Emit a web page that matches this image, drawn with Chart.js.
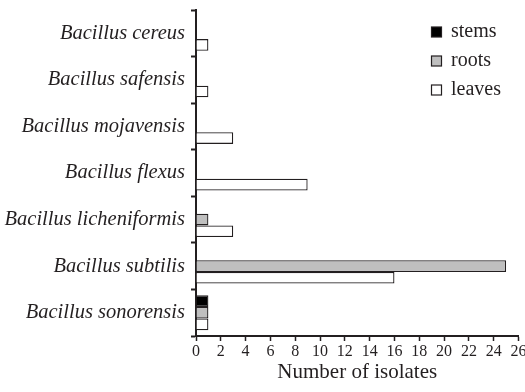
<!DOCTYPE html>
<html>
<head>
<meta charset="utf-8">
<script src="https://cdn.jsdelivr.net/npm/chart.js@4/dist/chart.umd.min.js"></script>
<style>
  html, body { margin: 0; padding: 0; background: #fff; overflow: hidden; }
  canvas { display: block; }
</style>
</head>
<body>
<canvas id="c" width="525" height="392"></canvas>
<script>
const species = ['Bacillus cereus', 'Bacillus safensis', 'Bacillus mojavensis', 'Bacillus flexus',
  'Bacillus licheniformis', 'Bacillus subtilis', 'Bacillus sonorensis'];
const stems = [0, 0, 0, 0, 0, 0, 1];
const roots = [0, 0, 0, 0, 1, 25, 1];
const leaves = [1, 1, 3, 9, 3, 16, 1];
const seriesNames = ['stems', 'roots', 'leaves'];
const xMin = 0, xMax = 26, xStep = 2;

const INK = '#231f20';
const FONT = "'Liberation Serif', 'DejaVu Serif', serif";
const fills = ['#000000', '#bfbfbf', '#ffffff'];

// legend in the top right corner, squares + labels
const boxLegend = {
  id: 'boxLegend',
  afterDraw(chart) {
    const ctx = chart.ctx;
    ctx.save();
    ctx.font = `20px ${FONT}`;
    ctx.textBaseline = 'middle';
    chart.data.datasets.forEach((ds, i) => {
      const y = 32 + i * 29;
      ctx.fillStyle = ds.backgroundColor;
      ctx.fillRect(431.5, y - 5, 10, 10);
      ctx.strokeStyle = INK;
      ctx.lineWidth = 1.2;
      ctx.strokeRect(431.5, y - 5, 10, 10);
      ctx.fillStyle = INK;
      ctx.fillText(ds.label, 451, y);
    });
    ctx.restore();
  }
};

new Chart(document.getElementById('c').getContext('2d'), {
  type: 'bar',
  data: {
    labels: species,
    datasets: [stems, roots, leaves].map((d, i) => ({
      label: seriesNames[i],
      data: d,
      backgroundColor: fills[i],
      borderColor: INK,
      borderWidth: 1.3,
      categoryPercentage: 0.75,
      barPercentage: 1,
    })),
  },
  options: {
    indexAxis: 'y',
    responsive: false,
    animation: false,
    layout: { padding: { top: 10, left: 0, right: 0, bottom: 0 } },
    plugins: { legend: { display: false }, tooltip: { enabled: false } },
    scales: {
      x: {
        min: xMin, max: xMax,
        ticks: { stepSize: xStep, color: INK, font: { family: FONT, size: 16 }, padding: 1, maxRotation: 0 },
        grid: { drawOnChartArea: false, tickLength: 5, color: INK, tickWidth: 1.5 },
        border: { color: INK, width: 2 },
        title: { display: true, text: 'Number of isolates', color: INK, font: { family: FONT, size: 21 }, padding: { top: 0, bottom: 7 } },
        afterFit(s) { s.paddingRight = 6.5; s.paddingLeft = 0; s.height = 56; },
      },
      y: {
        ticks: { color: INK, font: { family: FONT, size: 20.5, style: 'italic' }, padding: 6 },
        grid: { drawOnChartArea: false, tickLength: 5, color: INK, tickWidth: 2 },
        border: { color: INK, width: 2 },
        afterFit(s) { s.width = 196; s.paddingTop = 0; s.paddingBottom = 0; },
      },
    },
  },
  plugins: [boxLegend],
});
</script>
</body>
</html>
